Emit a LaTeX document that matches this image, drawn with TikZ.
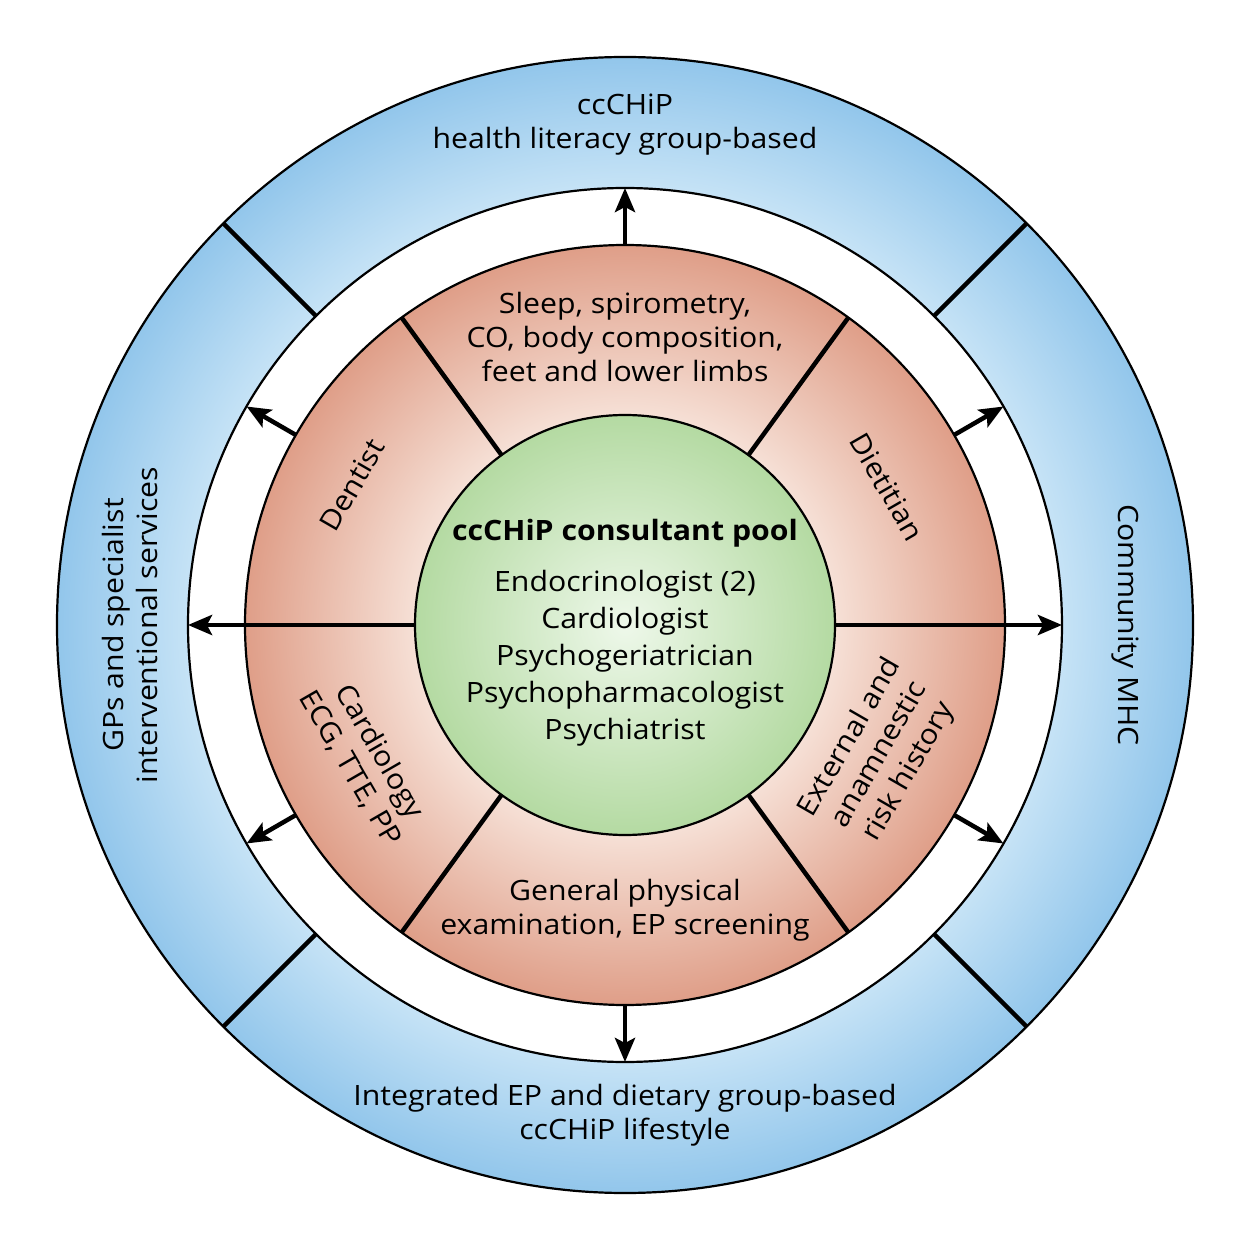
\documentclass[tikz,border=0pt]{standalone}
\usepackage{fontspec}
\setmainfont{Open Sans}[FakeStretch=1.08]
\usetikzlibrary{arrows.meta}

\definecolor{ringOuter}{HTML}{92C6EB}
\definecolor{ringInner}{HTML}{C6E3F6}
\definecolor{discOuter}{HTML}{DF9E88}
\definecolor{discInner}{HTML}{F6E0D6}
\definecolor{poolOuter}{HTML}{B4DAA2}
\definecolor{poolInner}{HTML}{EEF8EA}

\pgfdeclareradialshading{ring shade}{\pgfpoint{0bp}{0bp}}{%
  color(0bp)=(ringInner); color(19.2bp)=(ringInner);
  color(25bp)=(ringOuter); color(50bp)=(ringOuter)}
\pgfdeclareradialshading{disc shade}{\pgfpoint{0bp}{0bp}}{%
  color(0bp)=(discInner); color(13.8bp)=(discInner);
  color(25bp)=(discOuter); color(50bp)=(discOuter)}
\pgfdeclareradialshading{pool shade}{\pgfpoint{0bp}{0bp}}{%
  color(0bp)=(poolInner); color(25bp)=(poolOuter); color(50bp)=(poolOuter)}

\begin{document}
\begin{tikzpicture}[
    x=1pt, y=1pt,
    outline/.style={draw=black, line width=2.2pt},
    divider/.style={draw=black, line width=4.5pt},
    flow arrow/.style={
      -{Stealth[length=24pt,width=20pt,inset=5pt]},
      line width=4.5pt
    },
    ring label/.style={align=center, inner sep=0pt, font=\fontsize{28}{34}\selectfont},
    sector label/.style={align=center, inner sep=0pt, font=\fontsize{28}{34}\selectfont},
    pool label/.style={align=center, inner sep=0pt, font=\fontsize{28}{37}\selectfont}
  ]

    \fill[white] (-625,-625) rectangle (625,625);
    \useasboundingbox (-625,-625) rectangle (625,625);

    % outer ring of services
    \shade[shading=ring shade, even odd rule] (0,0) circle (568) (0,0) circle (437);
    \foreach \a in {45,135,225,315}
      \draw[divider] (\a:437) -- (\a:568);
    \draw[outline] (0,0) circle (568);
    \draw[outline] (0,0) circle (437);

    % assessment disc and consultant pool
    \shade[shading=disc shade] (0,0) circle (380);
    \shade[shading=pool shade] (0,0) circle (210);
    \foreach \a in {54,126,234,306}
      \draw[divider] (\a:210) -- (\a:380);
    \draw[outline] (0,0) circle (380);
    \draw[outline] (0,0) circle (210);

    % arrows out to the ring
    \foreach \a in {30,90,150,210,270,330} {
      \coordinate (from-\a) at (\a:380);
      \coordinate (to-\a) at (\a:437);
      \draw[flow arrow] (from-\a) -- (to-\a);
    }
    \foreach \a in {0,180} {
      \coordinate (from-\a) at (\a:210);
      \coordinate (to-\a) at (\a:437);
      \draw[flow arrow] (from-\a) -- (to-\a);
    }

    \node[ring label] (literacy) at (0,500) {ccCHiP\\health literacy group-based};
    \node[ring label] (lifestyle) at (0,-490) {Integrated EP and dietary group-based\\ccCHiP lifestyle};
    \node[ring label, rotate=90] (gps) at (-495,0) {GPs and specialist\\interventional services};
    \node[ring label, rotate=-90] (mhc) at (500,0) {Community MHC};

    \node[sector label] (sleep) at (0,288) {Sleep, spirometry,\\CO, body composition,\\feet and lower limbs};
    \node[sector label] (physical) at (0,-285) {General physical\\examination, EP screening};
    \node[sector label, rotate=60] (dentist) at (-273,140) {Dentist};
    \node[sector label, rotate=-60] (dietitian) at (262,138) {Dietitian};
    \node[sector label, rotate=-60] (cardiology) at (-260,-135) {Cardiology\\ECG, TTE, PP};
    \node[sector label, rotate=60] (history) at (255,-130) {External and\\anamnestic\\risk history};

    \node[pool label] (pool) at (0,-8) {\textbf{ccCHiP consultant pool}\\[14pt]
      Endocrinologist (2)\\Cardiologist\\Psychogeriatrician\\Psychopharmacologist\\Psychiatrist};

\end{tikzpicture}
\end{document}
